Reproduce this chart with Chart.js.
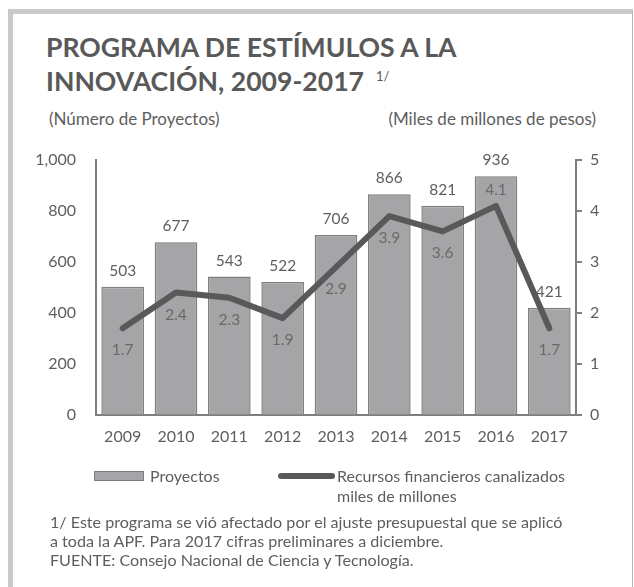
<!DOCTYPE html>
<html>
<head>
<meta charset="utf-8">
<script src="https://cdn.jsdelivr.net/npm/chart.js@4"></script>
<style>
  html, body { margin:0; padding:0; background:#fff; }
  body { width:634px; height:587px; position:relative; overflow:hidden; font-family: Lato, "Open Sans", sans-serif; color:#5e5e5e; }
  #frame { position:absolute; left:8px; top:9px; width:619px; height:600px; border-top:5px solid #c9c9c9; border-left:5px solid #c9c9c9; border-right:1px solid #b4b4b4; }
  .abs { position:absolute; white-space:nowrap; }
  #title { left:46px; top:30px; font-size:26.6px; font-weight:700; line-height:34px; color:#595959; }
  #title sup { font-size:13px; font-weight:400; position:relative; top:2px; margin-left:12px; vertical-align:top; line-height:20px; }
  .sub { font-size:17px; line-height:20px; top:109px; }
  .leg { font-size:16px; line-height:19.5px; }
  .foot { left:50px; top:512px; font-size:16.1px; line-height:19.2px; }
  canvas { position:absolute; left:0; top:0; }
</style>
</head>
<body>
<div id="frame"></div>
<div id="title" class="abs">PROGRAMA DE ESTÍMULOS A LA<br>INNOVACIÓN, 2009-2017<sup>1/</sup></div>
<div class="abs sub" style="left:49px;">(Número de Proyectos)</div>
<div class="abs sub" style="right:38px;">(Miles de millones de pesos)</div>
<canvas id="c" width="634" height="587"></canvas>
<div class="abs" style="left:94px; top:471px; width:48px; height:8px; background:#a5a5a7; border:1px solid #7f7f7f;"></div>
<div class="abs leg" style="left:150px; top:466px;">Proyectos</div>
<div class="abs" style="left:278px; top:472.5px; width:57px; height:6px; background:#59595b; border-radius:3px;"></div>
<div class="abs leg" style="left:337px; top:466px;">Recursos financieros canalizados<br>miles de millones</div>
<div class="abs foot">1/ Este programa se vió afectado por el ajuste presupuestal que se aplicó<br>a toda la APF. Para 2017 cifras preliminares a diciembre.<br>FUENTE: Consejo Nacional de Ciencia y Tecnología.</div>
<script>
const categories = ['2009','2010','2011','2012','2013','2014','2015','2016','2017'];
const proyectos = [503, 677, 543, 522, 706, 866, 821, 936, 421];
const recursos = [1.7, 2.4, 2.3, 1.9, 2.9, 3.9, 3.6, 4.1, 1.7];
const recursosLabelSide = ['below','below','below','below','below','below','below','above','below'];

const FONT = 'Lato';
const labelsPlugin = {
  id: 'valueLabels',
  afterDatasetsDraw(chart) {
    const ctx = chart.ctx;
    ctx.save();
    ctx.textAlign = 'center';
    ctx.textBaseline = 'middle';
    ctx.font = '15.5px ' + FONT;
    ctx.fillStyle = '#5e5e5e';
    chart.getDatasetMeta(0).data.forEach((bar, i) => {
      ctx.fillText(proyectos[i].toLocaleString('en-US'), bar.x, bar.y - 16);
    });
    ctx.fillStyle = '#6a6a6c';
    chart.getDatasetMeta(1).data.forEach((pt, i) => {
      const dy = recursosLabelSide[i] === 'above' ? -16 : 22;
      ctx.fillText(recursos[i].toFixed(1), pt.x, pt.y + dy);
    });
    ctx.restore();
  }
};

new Chart(document.getElementById('c'), {
  data: {
    labels: categories,
    datasets: [
      {
        type: 'bar', label: 'Proyectos', data: proyectos, yAxisID: 'y',
        backgroundColor: '#a5a5a7', borderColor: '#7f7f7f', borderWidth: 1.5,
        barPercentage: 0.8, categoryPercentage: 1.0, order: 2
      },
      {
        type: 'line', label: 'Recursos financieros canalizados miles de millones', data: recursos, yAxisID: 'y1',
        borderColor: '#59595b', borderWidth: 6, pointRadius: 0, pointHoverRadius: 0,
        borderCapStyle: 'round', borderJoinStyle: 'round', fill: false, tension: 0, order: 1
      }
    ]
  },
  options: {
    responsive: false, animation: false, devicePixelRatio: 1,
    layout: { padding: { left: 36, right: 13, top: 160, bottom: 137 } },
    plugins: { legend: { display: false }, tooltip: { enabled: false }, title: { display: false } },
    scales: {
      x: {
        grid: { display: false, drawTicks: false },
        border: { display: true, color: '#7f7f7f', width: 2 },
        ticks: { color: '#5e5e5e', font: { family: FONT, size: 16 }, padding: 12, maxRotation: 0 },
        afterFit(s) { s.height = 35; }
      },
      y: {
        position: 'left', min: 0, max: 1000,
        grid: { display: true, drawOnChartArea: false, drawTicks: false },
        border: { display: true, color: '#7f7f7f', width: 2 },
        ticks: { stepSize: 200, color: '#5e5e5e', font: { family: FONT, size: 16 }, padding: 20,
                 callback: v => v.toLocaleString('en-US') },
        afterFit(s) { s.width = 60; }
      },
      y1: {
        position: 'right', min: 0, max: 5,
        grid: { display: true, drawOnChartArea: false, drawTicks: true, tickLength: 6, color: '#7f7f7f', lineWidth: 2 },
        border: { display: true, color: '#7f7f7f', width: 2 },
        ticks: { stepSize: 1, color: '#5e5e5e', font: { family: FONT, size: 16 }, padding: 8 },
        afterFit(s) { s.width = 45; }
      }
    }
  },
  plugins: [labelsPlugin]
});
</script>
</body>
</html>
